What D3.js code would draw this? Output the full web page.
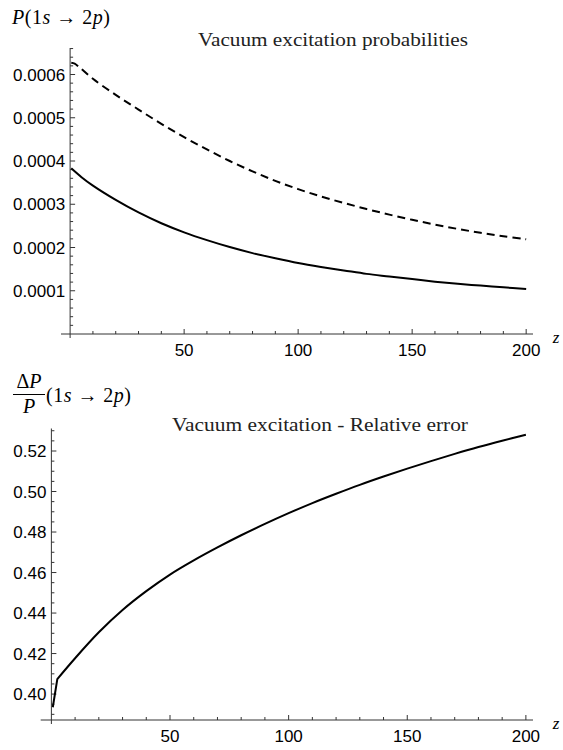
<!DOCTYPE html>
<html>
<head>
<meta charset="utf-8">
<script src="https://cdn.jsdelivr.net/npm/d3@7"></script>
<style>
  body { margin: 0; background: #fff; }
  .tick-label { font-family: "Liberation Sans", Arial, sans-serif; font-size: 17px; fill: #000; }
  .math { font-family: "Liberation Serif", "Times New Roman", serif; fill: #000; }
  .title { font-family: "Liberation Serif", "Times New Roman", serif; font-size: 19px; fill: #222; }
</style>
</head>
<body>
<div id="wrapper"></div>
<script>
// values (P in absolute units, z dimensionless)
const zSolid = [0.5, 5, 10, 20, 30, 40, 50, 60, 70, 80, 90, 100, 110, 120, 130, 140, 150, 160, 170, 180, 190, 200];
const pSolid = [3.83e-4, 3.625e-4, 3.43e-4, 3.10e-4, 2.81e-4, 2.56e-4, 2.35e-4, 2.17e-4, 2.01e-4, 1.87e-4, 1.75e-4,
                1.64e-4, 1.55e-4, 1.47e-4, 1.39e-4, 1.33e-4, 1.27e-4, 1.21e-4, 1.16e-4, 1.12e-4, 1.08e-4, 1.04e-4];

const zDashed = [0.5, 2, 4, 10, 20, 30, 40, 50, 60, 70, 80, 90, 100, 110, 120, 130, 140, 150, 160, 170, 180, 190, 200];
const pDashed = [6.27e-4, 6.25e-4, 6.17e-4, 5.90e-4, 5.53e-4, 5.19e-4, 4.86e-4, 4.55e-4, 4.27e-4, 4.00e-4, 3.76e-4, 3.54e-4,
                 3.35e-4, 3.18e-4, 3.03e-4, 2.89e-4, 2.76e-4, 2.64e-4, 2.53e-4, 2.43e-4, 2.34e-4, 2.26e-4, 2.19e-4];

const zErr = [0.6, 2.5, 10, 20, 30, 40, 50, 60, 70, 80, 90, 100, 110, 120, 130, 140, 150, 160, 170, 180, 190, 200];
const relErr = [0.3935, 0.4074, 0.4177, 0.4305, 0.4415, 0.4508, 0.4590, 0.4660, 0.4724, 0.4784, 0.4840,
                0.4893, 0.4943, 0.4989, 0.5033, 0.5074, 0.5113, 0.5150, 0.5186, 0.5220, 0.5251, 0.5280];

const xMajor = [50, 100, 150, 200];
const topYMajor = [0.0001, 0.0002, 0.0003, 0.0004, 0.0005, 0.0006];
const botYMajor = [0.40, 0.42, 0.44, 0.46, 0.48, 0.50, 0.52];

const width = 563, height = 750;

const svg = d3.select("#wrapper").append("svg")
              .attr("width", width)
              .attr("height", height);

const axisColor = "#333";

// draws one mathematica-style panel: axes crossing at (0, yOrigin)
function drawPanel(opt) {
  const x = d3.scaleLinear().domain(opt.xDomain).range(opt.xRange);
  const y = d3.scaleLinear().domain(opt.yDomain).range(opt.yRange);
  const g = svg.append("g");

  const x0 = x(0), yAx = y(opt.yDomain[0]);

  // x axis line
  g.append("line")
    .attr("x1", opt.xRange[0]).attr("x2", opt.xRange[1])
    .attr("y1", yAx).attr("y2", yAx)
    .attr("stroke", axisColor).attr("stroke-width", 1);
  // y axis line (runs a bit under the x axis)
  g.append("line")
    .attr("x1", x0).attr("x2", x0)
    .attr("y1", yAx + 4).attr("y2", opt.yTop)
    .attr("stroke", axisColor).attr("stroke-width", 1);

  // x ticks, every 10, major at 50s
  d3.range(10, 201, 10).forEach(v => {
    const major = v % 50 === 0;
    g.append("line")
      .attr("x1", x(v)).attr("x2", x(v))
      .attr("y1", yAx).attr("y2", yAx - (major ? 5 : 3))
      .attr("stroke", axisColor).attr("stroke-width", 1);
  });
  g.selectAll(".xl").data(xMajor).enter().append("text")
    .attr("class", "tick-label")
    .attr("x", d => x(d)).attr("y", yAx + 22)
    .attr("text-anchor", "middle")
    .text(d => d);

  // y ticks
  opt.yMinor.forEach(v => {
    const major = opt.yMajor.some(m => Math.abs(m - v) < opt.eps);
    g.append("line")
      .attr("x1", x0).attr("x2", x0 + (major ? 5 : 3))
      .attr("y1", y(v)).attr("y2", y(v))
      .attr("stroke", axisColor).attr("stroke-width", 1);
  });
  g.selectAll(".yl").data(opt.yMajor).enter().append("text")
    .attr("class", "tick-label")
    .attr("x", x0 - 5).attr("y", d => y(d) + 6)
    .attr("text-anchor", "end")
    .text(opt.fmt);

  // z label
  g.append("text").attr("class", "math")
    .attr("x", 556).attr("y", yAx + 9)
    .attr("text-anchor", "middle")
    .style("font-style", "italic").style("font-size", "17px")
    .text("z");

  const smooth = d3.line().curve(d3.curveCatmullRom.alpha(0.5))
                   .x(d => x(d[0])).y(d => y(d[1]));
  const straight = d3.line().x(d => x(d[0])).y(d => y(d[1]));
  opt.series.forEach(s => {
    const pts = d3.zip(s.z, s.v);
    const k = s.kink || 0;   // sharp corner at index k: straight before, smooth after
    let d = smooth(pts.slice(k));
    if (k > 0) d = straight(pts.slice(0, k + 1)) + d.replace(/^M[^C L]*/, "");
    g.append("path")
      .attr("d", d)
      .attr("fill", "none")
      .attr("stroke", "#000")
      .attr("stroke-width", 2)
      .attr("stroke-linejoin", "miter")
      .attr("stroke-dasharray", s.dash || null);
  });

  g.append("text").attr("class", "title")
    .attr("x", 468).attr("y", opt.titleY)
    .attr("text-anchor", "end")
    .attr("textLength", opt.titleW)
    .attr("lengthAdjust", "spacingAndGlyphs")
    .text(opt.title);
  return g;
}

drawPanel({
  xDomain: [-4, 203], xRange: [61, 533],
  yDomain: [0, 0.0006], yRange: [334, 74.5],
  yTop: 48,
  yMajor: topYMajor,
  yMinor: d3.range(1, 34).map(i => i * 0.00002),
  eps: 1e-7,
  fmt: d => d3.format(".4f")(d),
  series: [{ z: zDashed, v: pDashed, dash: "8,5" }, { z: zSolid, v: pSolid }],
  title: "Vacuum excitation probabilities",
  titleY: 46, titleW: 270
});

drawPanel({
  xDomain: [-4.5, 203], xRange: [40.7, 533],
  yDomain: [0.3872, 0.52], yRange: [720, 451],
  yTop: 428.5,
  yMajor: botYMajor,
  yMinor: d3.range(78, 107).map(i => i * 0.005),
  eps: 1e-6,
  fmt: d => d3.format(".2f")(d),
  series: [{ z: zErr, v: relErr, kink: 1 }],
  title: "Vacuum excitation - Relative error",
  titleY: 431, titleW: 296
});

// axis labels, serif math
function pLabel(sel) {
  sel.append("tspan").text("(1");
  sel.append("tspan").style("font-style", "italic").text("s");
  sel.append("tspan").text(" \u2192 ");
  sel.append("tspan").text("2");
  sel.append("tspan").style("font-style", "italic").text("p");
  sel.append("tspan").text(")");
}

const topLab = svg.append("text").attr("class", "math")
                  .attr("x", 12).attr("y", 24).style("font-size", "20px")
                  .attr("textLength", 98).attr("lengthAdjust", "spacing");
topLab.append("tspan").style("font-style", "italic").text("P");
pLabel(topLab);

const frac = svg.append("g");
frac.append("text").attr("class", "math").attr("x", 29).attr("y", 388)
    .attr("text-anchor", "middle").style("font-size", "20px")
    .html('\u0394<tspan font-style="italic">P</tspan>');
frac.append("line").attr("x1", 13).attr("x2", 45).attr("y1", 394.5).attr("y2", 394.5)
    .attr("stroke", "#000").attr("stroke-width", 1);
frac.append("text").attr("class", "math").attr("x", 29).attr("y", 413)
    .attr("text-anchor", "middle").style("font-size", "20px").style("font-style", "italic")
    .text("P");
const botLab = svg.append("text").attr("class", "math")
                  .attr("x", 46).attr("y", 402).style("font-size", "20px")
                  .attr("textLength", 85).attr("lengthAdjust", "spacing");
pLabel(botLab);
</script>
</body>
</html>
